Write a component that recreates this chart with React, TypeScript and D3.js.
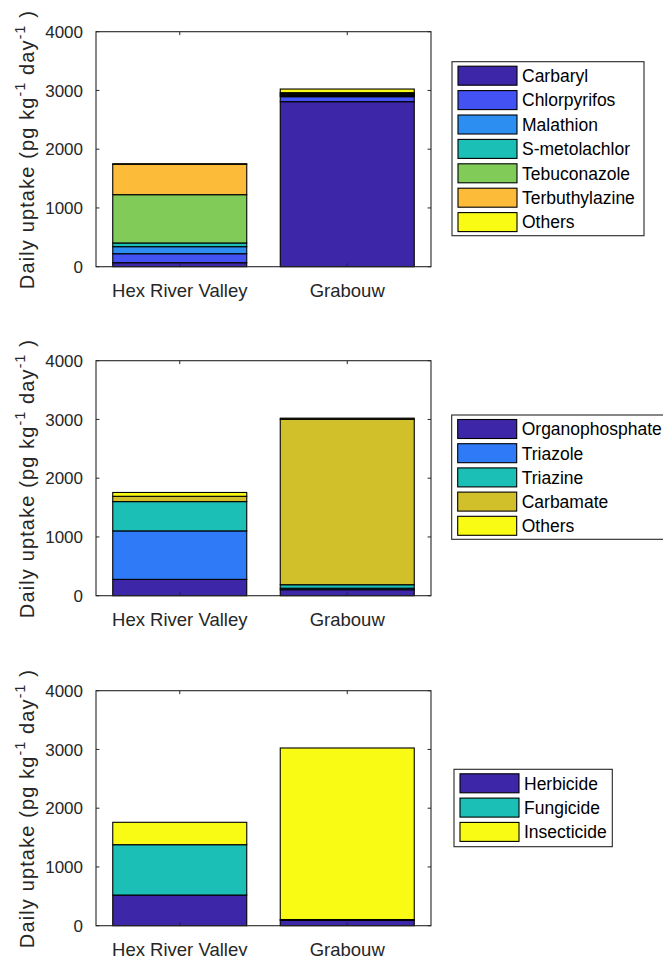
import * as d3 from "d3";

const sites = ["Hex River Valley", "Grabouw"];
const yTicks = [0, 1000, 2000, 3000, 4000];

// panel 1: single compounds
const compounds = ["Carbaryl", "Chlorpyrifos", "Malathion", "S-metolachlor", "Tebuconazole", "Terbuthylazine", "Others"];
const compoundHex = [68, 153, 120, 63, 822, 517, 10];
const compoundGrabouw = [2809, 85, 18, 15, 20, 15, 62];
const compoundColors = ["#3e26a8", "#4352f3", "#2c8ef0", "#1bbfb6", "#81cc59", "#fcbc3a", "#f9fb15"];

// panel 2: chemical groups
const groups = ["Organophosphate", "Triazole", "Triazine", "Carbamate", "Others"];
const groupHex = [278, 825, 499, 90, 65];
const groupGrabouw = [102, 25, 60, 2815, 20];
const groupColors = ["#3e26a8", "#2f7bf7", "#1bbfb6", "#d1c02a", "#f9fb15"];

// panel 3: use class
const classes = ["Herbicide", "Fungicide", "Insecticide"];
const classHex = [522, 857, 381];
const classGrabouw = [90, 15, 2920];
const classColors = ["#3e26a8", "#1bbfb6", "#f9fb15"];

const FONT = "'Liberation Sans', Arial, sans-serif";
const left = 96;
const right = 431;
const plotH = 235;

type PanelProps = {
  bottom: number;
  keys: string[];
  hex: number[];
  grab: number[];
  colors: string[];
  legend: { x: number; y: number; w: number; h: number; pitch: number };
};

function Panel({ bottom, keys, hex, grab, colors, legend }: PanelProps) {
  const x = d3.scaleLinear().domain([0.5, 2.5]).range([left, right]);
  const y = d3.scaleLinear().domain([0, 4000]).range([bottom, bottom - plotH]);
  const rows = sites.map((s, i) => {
    const r: Record<string, number | string> = { site: s, pos: i + 1 };
    keys.forEach((k, j) => (r[k] = (i === 0 ? hex : grab)[j]));
    return r;
  });
  const series = d3.stack<Record<string, number | string>>().keys(keys)(rows);
  const bw = x(1.4) - x(0.6);
  const top = bottom - plotH;
  const tl = 3.4;

  return (
    <g>
      {series.map((s, si) =>
        s.map((d, i) => (
          <rect
            key={si + "-" + i}
            x={x(i + 1) - bw / 2}
            y={y(d[1])}
            width={bw}
            height={y(d[0]) - y(d[1])}
            fill={colors[si]}
            stroke="#000"
            strokeWidth={1.1}
          />
        ))
      )}
      <rect x={left} y={top} width={right - left} height={plotH} fill="none" stroke="#262626" strokeWidth={1.1} />
      {yTicks.map((t) => (
        <g key={t}>
          <line x1={left} x2={left + tl} y1={y(t)} y2={y(t)} stroke="#262626" />
          <line x1={right} x2={right - tl} y1={y(t)} y2={y(t)} stroke="#262626" />
          <text x={83} y={y(t)} dy="0.36em" textAnchor="end" fontSize={17} fontFamily={FONT} fill="#262626">
            {t}
          </text>
        </g>
      ))}
      {sites.map((s, i) => (
        <g key={s}>
          <line x1={x(i + 1)} x2={x(i + 1)} y1={bottom} y2={bottom - tl} stroke="#262626" />
          <line x1={x(i + 1)} x2={x(i + 1)} y1={top} y2={top + tl} stroke="#262626" />
          <text x={x(i + 1)} y={bottom + 30} textAnchor="middle" fontSize={18.5} fontFamily={FONT} fill="#262626">
            {s}
          </text>
        </g>
      ))}
      <text
        transform={`translate(34,${(top + bottom) / 2 + 1}) rotate(-90)`}
        textAnchor="middle"
        fontSize={20}
        fontFamily={FONT}
        fill="#262626"
        textLength={278}
        lengthAdjust="spacing"
      >
        Daily uptake (pg kg
        <tspan fontSize={14} dy={-9}>-1</tspan>
        <tspan dy={9}> day</tspan>
        <tspan fontSize={14} dy={-9}>-1</tspan>
        <tspan dy={9}> )</tspan>
      </text>
      <rect x={legend.x} y={legend.y} width={legend.w} height={legend.h} fill="#fff" stroke="#262626" strokeWidth={1.1} />
      {keys.map((k, i) => {
        const cy = legend.y + 14 + i * legend.pitch;
        return (
          <g key={k}>
            <rect x={legend.x + 6} y={cy - 9.5} width={59} height={19} fill={colors[i]} stroke="#000" strokeWidth={1.1} />
            <text x={legend.x + 70} y={cy} dy="0.36em" fontSize={17.5} fontFamily={FONT} fill="#000">
              {k}
            </text>
          </g>
        );
      })}
    </g>
  );
}

export default function App() {
  return (
    <div style={{ position: "absolute", left: 0, top: 0 }}>
      <svg width={663} height={956} viewBox="0 0 663 956" style={{ display: "block", background: "#fff" }}>
        <Panel
          bottom={266.7}
          keys={compounds}
          hex={compoundHex}
          grab={compoundGrabouw}
          colors={compoundColors}
          legend={{ x: 452, y: 61.7, w: 192, h: 174, pitch: 24.4 }}
        />
        <Panel
          bottom={595.7}
          keys={groups}
          hex={groupHex}
          grab={groupGrabouw}
          colors={groupColors}
          legend={{ x: 451.7, y: 415, w: 215, h: 124.3, pitch: 24.2 }}
        />
        <Panel
          bottom={925.7}
          keys={classes}
          hex={classHex}
          grab={classGrabouw}
          colors={classColors}
          legend={{ x: 454, y: 769.3, w: 158.3, h: 77.4, pitch: 24.3 }}
        />
      </svg>
    </div>
  );
}
